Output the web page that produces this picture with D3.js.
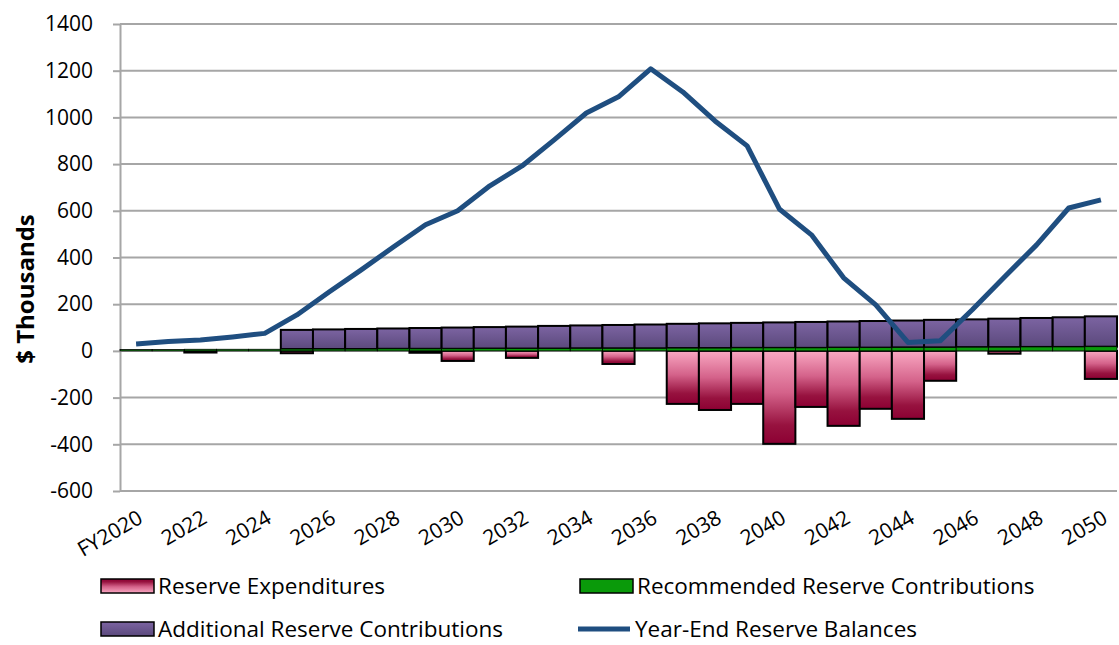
<!DOCTYPE html>
<html>
<head>
<meta charset="utf-8">
<script src="https://cdn.jsdelivr.net/npm/d3@7"></script>
<style>
  body { margin: 0; background: #fff; }
  svg { display: block; font-family: 'Open Sans', Lato, sans-serif; }
</style>
</head>
<body>
<div id="chart"></div>
<script>
// Fiscal years on the category axis.
const years = [
  'FY2020', '2021', '2022', '2023', '2024', '2025', '2026', '2027', '2028', '2029',
  '2030', '2031', '2032', '2033', '2034', '2035', '2036', '2037', '2038', '2039',
  '2040', '2041', '2042', '2043', '2044', '2045', '2046', '2047', '2048', '2049', '2050'
];
const yearLabels = ['FY2020', '2022', '2024', '2026', '2028', '2030', '2032', '2034',
  '2036', '2038', '2040', '2042', '2044', '2046', '2048', '2050'];

// $ thousands.
const reserveExpenditures = [
  0, 0, -7, 0, 0, -10, 0, 0, 0, -8,
  -43, 0, -30, 0, 0, -56, 0, -227, -253, -227,
  -398, -240, -321, -248, -291, -128, 0, -12, 0, 0, -120
];
const recommendedContributions = [
  6, 6, 7, 7, 7, 8, 8, 8, 9, 9,
  9, 10, 10, 10, 11, 11, 11, 12, 12, 13,
  13, 13, 14, 14, 15, 15, 16, 16, 17, 17, 18
];
const additionalContributions = [
  0, 0, 0, 0, 0, 82, 84, 86, 87, 89,
  91, 92, 94, 97, 98, 100, 102, 104, 106, 107,
  109, 111, 112, 114, 115, 118, 119, 122, 124, 127, 130
];
const yearEndBalances = [
  30, 40, 47, 60, 75, 154, 252, 347, 445, 540,
  600, 707, 792, 904, 1019, 1088, 1208, 1109, 985, 878,
  608, 497, 313, 197, 36, 43, 176, 317, 454, 612, 647
];
const yTicks = [-600, -400, -200, 0, 200, 400, 600, 800, 1000, 1200, 1400];

const width = 1119, height = 645;
const plot = { left: 120, right: 1117, top: 24, bottom: 491 };

const svg = d3.select('#chart').append('svg')
  .attr('width', width)
  .attr('height', height);

const defs = svg.append('defs');

function gradient(id, stops) {
  const g = defs.append('linearGradient')
    .attr('id', id)
    .attr('x1', 0).attr('y1', 0).attr('x2', 0).attr('y2', 1);
  g.selectAll('stop')
    .data(stops)
    .enter()
    .append('stop')
    .attr('offset', d => d[0])
    .attr('stop-color', d => d[1]);
}
gradient('expGrad', [[0, '#f9a8c2'], [0.45, '#d4628a'], [0.8, '#97123f'], [1, '#8c0033']]);
gradient('expGradLegend', [[0, '#8c0033'], [0.2, '#97123f'], [0.55, '#d4628a'], [1, '#f9a8c2']]);
gradient('addGrad', [[0, '#7c64a2'], [1, '#5b497c']]);

const x = d3.scaleBand()
  .domain(years)
  .range([plot.left, plot.right])
  .padding(0);

const y = d3.scaleLinear()
  .domain([-600, 1400])
  .range([plot.bottom, plot.top]);

// Gridlines
svg.append('g')
  .selectAll('line')
  .data(yTicks)
  .enter()
  .append('line')
  .attr('x1', plot.left)
  .attr('x2', plot.right)
  .attr('y1', d => y(d))
  .attr('y2', d => y(d))
  .attr('stroke', '#a6a6a6')
  .attr('stroke-width', 2);

// Y axis
const yAxis = svg.append('g')
  .attr('transform', `translate(${plot.left}, 0)`)
  .call(d3.axisLeft(y)
    .tickValues(yTicks)
    .tickFormat(d => String(d))
    .tickSize(7)
    .tickSizeOuter(0)
    .tickPadding(20));
yAxis.select('.domain').attr('stroke', '#a6a6a6').attr('stroke-width', 2);
yAxis.selectAll('.tick line').attr('stroke', '#a6a6a6').attr('stroke-width', 2);
yAxis.selectAll('.tick text')
  .attr('font-family', "'Open Sans', sans-serif")
  .attr('font-size', '21px')
  .attr('fill', '#000');

svg.append('text')
  .attr('transform', `translate(34, ${y(265)}) rotate(-90)`)
  .attr('text-anchor', 'middle')
  .attr('font-size', '24px')
  .attr('font-weight', 'bold')
  .text('$ Thousands');

const bw = x.bandwidth();

// Reserve expenditures (negative bars)
svg.append('g')
  .selectAll('rect')
  .data(years.filter((d, i) => reserveExpenditures[i] < 0))
  .enter()
  .append('rect')
  .attr('x', d => x(d))
  .attr('y', y(0))
  .attr('width', bw)
  .attr('height', d => y(reserveExpenditures[years.indexOf(d)]) - y(0))
  .attr('fill', 'url(#expGrad)')
  .attr('stroke', '#000')
  .attr('stroke-width', 2);

// Additional contributions stacked on top of recommended
svg.append('g')
  .selectAll('rect')
  .data(years.filter((d, i) => additionalContributions[i] > 0))
  .enter()
  .append('rect')
  .attr('x', d => x(d))
  .attr('y', d => {
    const i = years.indexOf(d);
    return y(recommendedContributions[i] + additionalContributions[i]);
  })
  .attr('width', bw)
  .attr('height', d => {
    const i = years.indexOf(d);
    return y(recommendedContributions[i]) - y(recommendedContributions[i] + additionalContributions[i]);
  })
  .attr('fill', 'url(#addGrad)')
  .attr('stroke', '#000')
  .attr('stroke-width', 2);

// Recommended contributions
svg.append('g')
  .selectAll('rect')
  .data(years)
  .enter()
  .append('rect')
  .attr('x', d => x(d))
  .attr('y', (d, i) => y(recommendedContributions[i]))
  .attr('width', bw)
  .attr('height', (d, i) => y(0) - y(recommendedContributions[i]))
  .attr('fill', '#0a9a0a')
  .attr('stroke', '#000')
  .attr('stroke-width', 0.8);

// Year-end balance line
const line = d3.line()
  .x((d, i) => x(years[i]) + bw / 2)
  .y(d => y(d));

svg.append('path')
  .datum(yearEndBalances)
  .attr('d', line)
  .attr('fill', 'none')
  .attr('stroke', '#1f4e80')
  .attr('stroke-width', 5)
  .attr('stroke-linejoin', 'round');

// X axis labels
svg.append('g')
  .selectAll('text')
  .data(yearLabels)
  .enter()
  .append('text')
  .attr('transform', d => `translate(${x(d) + bw / 2 + 8}, 522) rotate(-30)`)
  .attr('text-anchor', 'end')
  .attr('font-size', '21px')
  .text(d => d);

// Legend
const legendItems = [
  { name: 'Reserve Expenditures', type: 'rect', fill: 'url(#expGradLegend)', x: 101, y: 586 },
  { name: 'Recommended Reserve Contributions', type: 'rect', fill: '#0a9a0a', x: 580, y: 586 },
  { name: 'Additional Reserve Contributions', type: 'rect', fill: 'url(#addGrad)', x: 101, y: 629 },
  { name: 'Year-End Reserve Balances', type: 'line', fill: '#1f4e80', x: 578, y: 629 }
];

const legend = svg.append('g');
legendItems.forEach(item => {
  if (item.type === 'rect') {
    legend.append('rect')
      .attr('x', item.x)
      .attr('y', item.y - 7)
      .attr('width', 53)
      .attr('height', 14)
      .attr('fill', item.fill)
      .attr('stroke', '#000')
      .attr('stroke-width', 1.5);
  } else {
    legend.append('line')
      .attr('x1', item.x)
      .attr('x2', item.x + 52)
      .attr('y1', item.y)
      .attr('y2', item.y)
      .attr('stroke', item.fill)
      .attr('stroke-width', 5);
  }
  legend.append('text')
    .attr('x', item.x + 57)
    .attr('y', item.y)
    .attr('dy', '0.35em')
    .attr('font-size', '22.5px')
    .text(item.name);
});
</script>
</body>
</html>
